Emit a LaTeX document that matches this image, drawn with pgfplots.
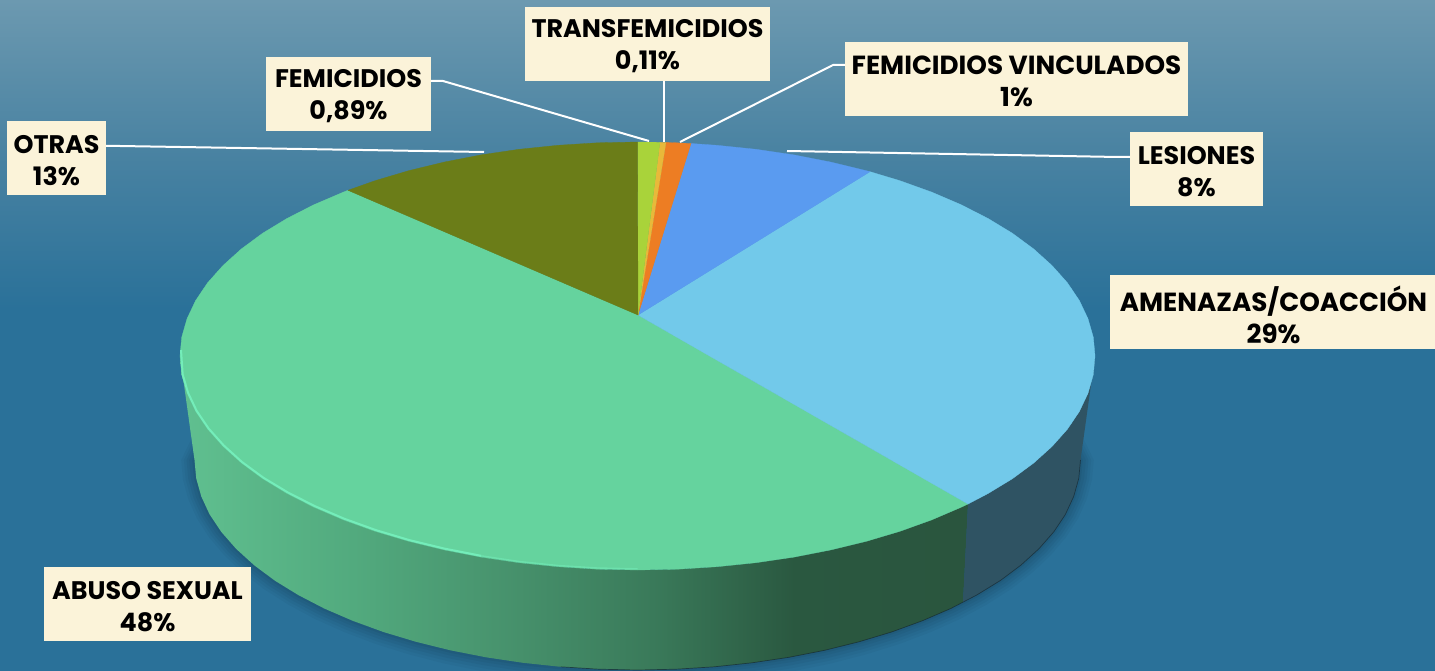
\documentclass[border=0pt]{standalone}
\usepackage{fontspec}
\setmainfont{Poppins}
\usepackage{pgfplots}
\usepackage{pgfplotstable}
\pgfplotsset{compat=1.18}
\definecolor{gTop}{HTML}{65D39E}
\definecolor{lbTop}{HTML}{72C9EA}
\definecolor{bTop}{HTML}{5A9BF0}
\definecolor{oTop}{HTML}{ED7D23}
\definecolor{yTop}{HTML}{E8B93A}
\definecolor{lTop}{HTML}{A9D33A}
\definecolor{olTop}{HTML}{6B7D18}
\definecolor{lbSide}{HTML}{2F5363}
\definecolor{boxc}{HTML}{FBF3D9}
\definecolor{rim}{HTML}{74EDBA}
\definecolor{bgA}{HTML}{2A7199}
\definecolor{bgB}{HTML}{4A83A2}
\definecolor{bgC}{HTML}{6C99B0}
\definecolor{sA}{HTML}{60C090}
\definecolor{sB}{HTML}{52AA7E}
\definecolor{sC}{HTML}{48946E}
\definecolor{sD}{HTML}{3A7A5A}
\definecolor{sE}{HTML}{2A5840}
\definecolor{sF}{HTML}{2A553E}
\tikzset{
  boxn/.style={fill=boxc, inner sep=0pt, minimum height=74bp},
  lab/.style={inner sep=0pt, align=center, text=black,
     font=\fontsize{25.5}{32}\selectfont\bfseries},
  labw/.style={inner sep=0pt, align=center, text=black,
     font=\fontsize{26.3}{32}\selectfont\bfseries}}
\pgfdeclareverticalshading{bgshade}{100bp}{
 color(0bp)=(bgA);
 color(25bp)=(bgA);
 color(52bp)=(bgA);
 color(64bp)=(bgB);
 color(75bp)=(bgC);
 color(100bp)=(bgC)}
\pgfdeclarehorizontalshading{greenside}{100bp}{
 color(0bp)=(sA);
 color(25bp)=(sA);
 color(36bp)=(sB);
 color(45bp)=(sC);
 color(55bp)=(sD);
 color(64bp)=(sE);
 color(75bp)=(sF);
 color(100bp)=(sF)}
\pgfplotstableread{
x y
1000 300
1080.5 460
1078.8 478.3
1073.7 496.5
1065.4 514.4
1053.8 531.8
1039 548.7
1021.1 565
1000.4 580.5
976.8 595
950.8 608.5
922.3 620.8
891.6 632
859 641.8
824.7 650.3
789 657.3
752.1 662.8
714.4 666.8
676.1 669.2
637.5 670
598.9 669.2
560.6 666.8
522.9 662.8
486 657.3
450.3 650.3
416 641.8
383.4 632
352.7 620.8
324.2 608.5
298.2 595
274.6 580.5
253.9 565
236 548.7
221.2 531.8
209.6 514.4
201.3 496.5
196.2 478.3
194.5 460
275 300
}\bottomarc
\begin{document}
\begin{tikzpicture}
\begin{axis}[
  scale only axis, width=1435bp, height=671bp,
  xmin=0, xmax=1435, ymin=0, ymax=671, y dir=reverse,
  axis lines=none, ticks=none, enlargelimits=false, clip=true,
]
% background
\addplot[draw=none, shading=bgshade, no marks] coordinates {(0,0)(1435,0)(1435,671)(0,671)};
% soft shadow
\addplot[draw=none, fill=black, opacity=0.03] table[x expr=637.5+(\thisrow{x}-637.5)*1.03, y expr=460+(\thisrow{y}-460)*1.07] {\bottomarc};
\addplot[draw=none, fill=black, opacity=0.03] table[x expr=637.5+(\thisrow{x}-637.5)*1.024, y expr=460+(\thisrow{y}-460)*1.055] {\bottomarc};
\addplot[draw=none, fill=black, opacity=0.04] table[x expr=637.5+(\thisrow{x}-637.5)*1.018, y expr=460+(\thisrow{y}-460)*1.04] {\bottomarc};
\addplot[draw=none, fill=black, opacity=0.04] table[x expr=637.5+(\thisrow{x}-637.5)*1.012, y expr=460+(\thisrow{y}-460)*1.025] {\bottomarc};
\addplot[draw=none, fill=black, opacity=0.05] table[x expr=637.5+(\thisrow{x}-637.5)*1.005, y expr=460+(\thisrow{y}-460)*1.012] {\bottomarc};
% side: green
\addplot[draw=none, shading=greenside] coordinates {
(968,504)(961,507.3)(931.6,519.9)(899.9,531.3)(866.3,541.3)(830.8,549.9)(794,557.1)(755.9,562.7)(716.9,566.7)(677.4,569.2)(637.5,570)
(597.6,569.2)(558.1,566.7)(519.1,562.7)(481,557.1)(444.2,549.9)(408.7,541.3)(375.1,531.3)(343.4,519.9)(314,507.3)(287.1,493.6)(262.7,478.8)(241.3,463)(222.9,446.4)(207.6,429.2)(195.6,411.4)(187,393.2)(181.7,374.7)(180,356)
(194.5,460)(196.2,478.3)(201.3,496.5)(209.6,514.4)(221.2,531.8)(236,548.7)(253.9,565)(274.6,580.5)(298.2,595)(324.2,608.5)(352.7,620.8)(383.4,632)(416,641.8)(450.3,650.3)(486,657.3)(522.9,662.8)(560.6,666.8)(598.9,669.2)(637.5,670)(676.1,669.2)(714.4,666.8)(752.1,662.8)(789,657.3)(824.7,650.3)(859,641.8)(891.6,632)(922.3,620.8)(950.8,608.5)(963,602)};
% side: light blue
\addplot[draw=none, fill=lbSide] coordinates {
(1095,356)(1093.3,374.7)(1088,393.2)(1079.4,411.4)(1067.4,429.2)(1052.1,446.4)(1033.7,463)(1012.3,478.8)(987.9,493.6)(968,504)
(963,602)(976.8,595)(1000.4,580.5)(1021.1,565)(1039,548.7)(1053.8,531.8)(1065.4,514.4)(1073.7,496.5)(1078.8,478.3)(1080.5,460)};
% bottom outline
\addplot[color=black!60!lbSide, line width=0.7pt, opacity=0.6] coordinates {
(1080.5,460)(1078.8,478.3)(1073.7,496.5)(1065.4,514.4)(1053.8,531.8)(1039,548.7)(1021.1,565)(1000.4,580.5)(976.8,595)(950.8,608.5)(922.3,620.8)(891.6,632)(859,641.8)(824.7,650.3)(789,657.3)(752.1,662.8)(714.4,666.8)(676.1,669.2)(637.5,670)(598.9,669.2)(560.6,666.8)};
% top faces
\addplot[draw=gTop, line width=0.3pt, fill=gTop] coordinates {
(638,315)(968,504)(961,507.3)(931.6,519.9)(899.9,531.3)(866.3,541.3)(830.8,549.9)(794,557.1)(755.9,562.7)(716.9,566.7)(677.4,569.2)(637.5,570)
(597.6,569.2)(558.1,566.7)(519.1,562.7)(481,557.1)(444.2,549.9)(408.7,541.3)(375.1,531.3)(343.4,519.9)(314,507.3)(287.1,493.6)(262.7,478.8)(241.3,463)(222.9,446.4)(207.6,429.2)(195.6,411.4)(187,393.2)(181.7,374.7)(180,356)
(181.7,337.3)(187,318.8)(195.6,300.6)(207.6,282.8)(222.9,265.6)(241.3,249)(262.7,233.2)(287.1,218.4)(314,204.7)(343.4,192.1)(348,190.3)(638,315)};
\addplot[draw=lbTop, line width=0.3pt, fill=lbTop] coordinates {
(638,315)(870,171.7)(899.9,180.7)(931.6,192.1)(961,204.7)(987.9,218.4)(1012.3,233.2)(1033.7,249)(1052.1,265.6)(1067.4,282.8)(1079.4,300.6)(1088,318.8)(1093.3,337.3)(1095,356)
(1093.3,374.7)(1088,393.2)(1079.4,411.4)(1067.4,429.2)(1052.1,446.4)(1033.7,463)(1012.3,478.8)(987.9,493.6)(968,504)(638,315)};
\addplot[draw=bTop, line width=0.3pt, fill=bTop] coordinates {
(638,315)(691,143.5)(716.9,145.3)(755.9,149.3)(794,154.9)(830.8,162.1)(866.3,170.7)(870,171.7)(638,315)};
\addplot[draw=oTop, line width=0.2pt, fill=oTop] coordinates {(638,315)(666,142.4)(677.4,142.8)(691,143.5)(638,315)};
\addplot[draw=yTop, line width=0.2pt, fill=yTop] coordinates {(638,315)(660,142.3)(666,142.4)(638,315)};
\addplot[draw=lTop, line width=0.2pt, fill=lTop] coordinates {(638,315)(637.5,142)(660,142.3)(638,315)};
\addplot[draw=olTop, line width=0.3pt, fill=olTop] coordinates {
(638,315)(348,190.3)(375.1,180.7)(408.7,170.7)(444.2,162.1)(481,154.9)(519.1,149.3)(558.1,145.3)(597.6,142.8)(637.5,142)(638,315)};
% rim highlight
\addplot[color=rim, line width=2pt] coordinates {
(181,350)(182.7,374.5)(188,392.7)(196.6,410.8)(208.6,428.5)(223.8,445.5)(242,462)(263.4,477.7)(287.8,492.4)(314.6,506)(344,518.6)(375.6,530)(409,540)(444.5,548.6)(481.2,555.8)};
\addplot[color=rim!55!gTop, line width=1.4pt] coordinates {(481.2,555.8)(519.2,561.5)(558.2,565.5)(597.6,568)(637.5,568.8)};
% leader lines
\addplot[color=white, line width=2bp] coordinates {(431,81)(443,81)(649,141)};
\addplot[color=white, line width=2bp] coordinates {(663.5,81)(663.5,142)};
\addplot[color=white, line width=2bp] coordinates {(845,65)(833,65)(680,142)};
\addplot[color=white, line width=2bp] coordinates {(787,151)(1118,157)(1130,157)};
\addplot[color=white, line width=2bp] coordinates {(106,146)(120,146)(484,152)};
% labels
\node[boxn, minimum width=245bp] at (axis cs:647.5,44) {};
\node[lab] at (axis cs:647.5,46.5) {TRANSFEMICIDIOS\\0,11\%};
\node[boxn, minimum width=165bp] at (axis cs:348.5,94) {};
\node[lab] at (axis cs:348.5,96.5) {FEMICIDIOS\\0,89\%};
\node[boxn, minimum width=343bp] at (axis cs:1016.5,79) {};
\node[labw] at (axis cs:1016.5,81.5) {FEMICIDIOS VINCULADOS\\1\%};
\node[boxn, minimum width=133bp] at (axis cs:1196.5,169) {};
\node[lab] at (axis cs:1196.5,171.5) {LESIONES\\8\%};
\node[boxn, minimum width=325bp] at (axis cs:1272.5,312) {};
\node[labw] at (axis cs:1273.5,314.5) {AMENAZAS/COACCIÓN\\29\%};
\node[boxn, minimum width=99bp] at (axis cs:56.5,158) {};
\node[lab] at (axis cs:56.5,160.5) {OTRAS\\13\%};
\node[boxn, minimum width=207bp] at (axis cs:147.5,604) {};
\node[lab] at (axis cs:147.5,606.5) {ABUSO SEXUAL\\48\%};
\end{axis}
\end{tikzpicture}
\end{document}
